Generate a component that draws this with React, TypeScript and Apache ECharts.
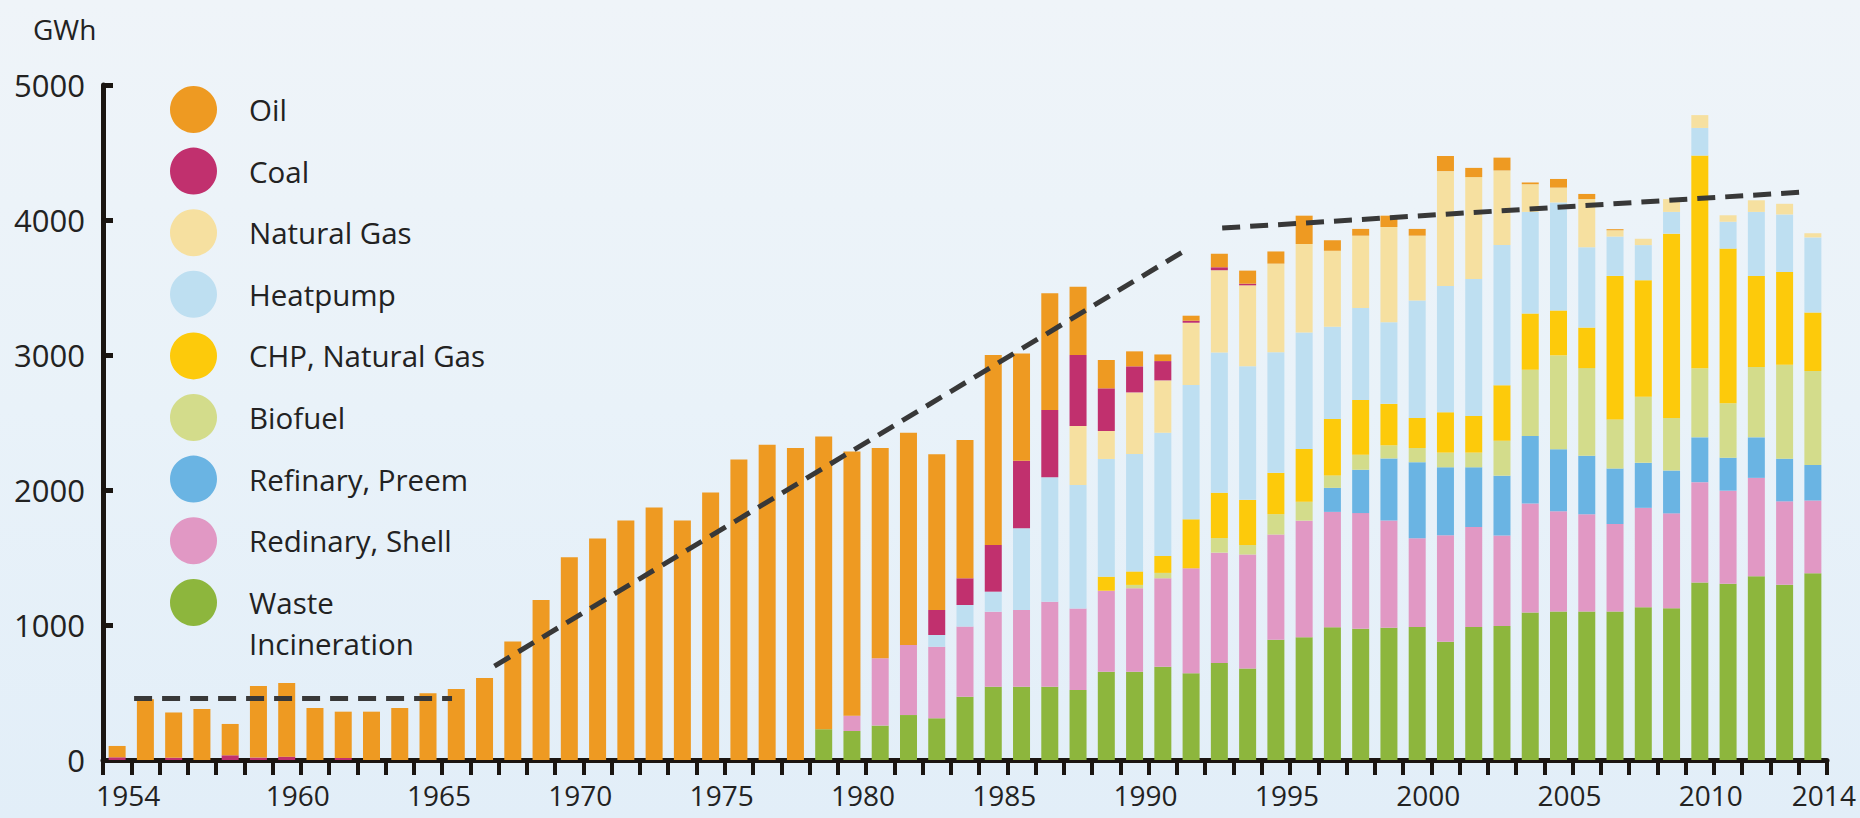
import React, { useEffect, useRef } from 'react';
import * as echarts from 'echarts';

const years = [
  '1954', '1955', '1956', '1957', '1958', '1959', '1960', '1961', '1962', '1963',
  '1964', '1965', '1966', '1967', '1968', '1969', '1970', '1971', '1972', '1973',
  '1974', '1975', '1976', '1977', '1978', '1979', '1980', '1981', '1982', '1983',
  '1984', '1985', '1986', '1987', '1988', '1989', '1990', '1991', '1992', '1993',
  '1994', '1995', '1996', '1997', '1998', '1999', '2000', '2001', '2002', '2003',
  '2004', '2005', '2006', '2007', '2008', '2009', '2010', '2011', '2012', '2013',
  '2014',
];

const labelYears = ['1954', '1960', '1965', '1970', '1975', '1980', '1985', '1990', '1995', '2000', '2005', '2010', '2014'];

const oil = [
  84, 450, 335, 378, 232, 530, 545, 385, 343, 358,
  385, 494, 526, 607, 877, 1185, 1501, 1640, 1775, 1870,
  1775, 1982, 2226, 2335, 2312, 2168, 1957, 1559, 1572, 1153,
  1024, 1407, 795, 864, 506, 210, 111, 49, 37, 100,
  97, 90, 210, 78, 50, 84, 50, 112, 68, 95,
  13, 64, 38, 8, 0, 0, 0, 0, 0, 0,
  0,
];

const coal = [
  20, 0, 17, 0, 35, 18, 25, 0, 15, 0,
  0, 0, 0, 0, 0, 0, 0, 0, 0, 0,
  0, 0, 0, 0, 0, 0, 0, 0, 0, 185,
  198, 346, 501, 499, 526, 316, 193, 143, 15, 22,
  12, 0, 0, 0, 0, 0, 0, 0, 0, 0,
  0, 0, 0, 0, 0, 0, 0, 0, 0, 0,
  0,
];

const naturalGas = [
  0, 0, 0, 0, 0, 0, 0, 0, 0, 0,
  0, 0, 0, 0, 0, 0, 0, 0, 0, 0,
  0, 0, 0, 0, 0, 0, 0, 0, 0, 0,
  0, 0, 0, 0, 437, 207, 457, 388, 461, 610,
  600, 657, 655, 563, 536, 706, 480, 851, 755, 553,
  205, 110, 357, 47, 47, 95, 95, 48, 86, 79,
  31,
];

const heatpump = [
  0, 0, 0, 0, 0, 0, 0, 0, 0, 0,
  0, 0, 0, 0, 0, 0, 0, 0, 0, 0,
  0, 0, 0, 0, 0, 0, 0, 0, 0, 87,
  160, 148, 605, 921, 914, 872, 869, 913, 995, 1038,
  989, 893, 864, 683, 682, 604, 870, 935, 1014, 1038,
  752, 800, 595, 291, 260, 161, 205, 199, 474, 427,
  557,
];

const chpNaturalGas = [
  0, 0, 0, 0, 0, 0, 0, 0, 0, 0,
  0, 0, 0, 0, 0, 0, 0, 0, 0, 0,
  0, 0, 0, 0, 0, 0, 0, 0, 0, 0,
  0, 0, 0, 0, 0, 104, 100, 125, 363, 336,
  335, 306, 390, 418, 405, 307, 223, 299, 272, 411,
  418, 333, 300, 1063, 863, 1366, 1575, 1145, 674, 686,
  433,
];

const biofuel = [
  0, 0, 0, 0, 0, 0, 0, 0, 0, 0,
  0, 0, 0, 0, 0, 0, 0, 0, 0, 0,
  0, 0, 0, 0, 0, 0, 0, 0, 0, 0,
  0, 0, 0, 0, 0, 0, 25, 40, 0, 108,
  70, 151, 140, 92, 111, 97, 105, 109, 109, 259,
  490, 695, 649, 364, 490, 389, 512, 404, 522, 696,
  696,
];

const refinaryPreem = [
  0, 0, 0, 0, 0, 0, 0, 0, 0, 0,
  0, 0, 0, 0, 0, 0, 0, 0, 0, 0,
  0, 0, 0, 0, 0, 0, 0, 0, 0, 0,
  0, 0, 0, 0, 0, 0, 0, 0, 0, 0,
  0, 0, 0, 178, 321, 460, 564, 503, 442, 443,
  500, 459, 433, 411, 333, 317, 332, 244, 300, 316,
  263,
];

const redinaryShell = [
  0, 0, 0, 0, 0, 0, 0, 0, 0, 0,
  0, 0, 0, 0, 0, 0, 0, 0, 0, 0,
  0, 0, 0, 0, 0, 0, 113, 498, 519, 530,
  519, 556, 568, 630, 605, 600, 618, 655, 778, 818,
  844, 780, 864, 854, 856, 795, 657, 789, 741, 671,
  807, 743, 721, 648, 737, 702, 743, 690, 728, 617,
  538,
];

const wasteIncineration = [
  0, 0, 0, 0, 0, 0, 0, 0, 0, 0,
  0, 0, 0, 0, 0, 0, 0, 0, 0, 0,
  0, 0, 0, 0, 0, 228, 215, 255, 333, 309,
  469, 543, 543, 543, 518, 654, 654, 691, 642, 718,
  678, 890, 909, 984, 973, 979, 985, 876, 985, 992,
  1093, 1100, 1100, 1100, 1131, 1125, 1315, 1305, 1362, 1299,
  1384,
];

// dashed trend segments: [year position, GWh]
const trendEarly = [[1954.6, 455], [1965.85, 455]];
const trendGrowth = [[1967.35, 695], [1991.75, 3770]];
const trendRecent = [[1993.1, 3940], [2013.8, 4209]];

const legendOrder = ['Oil', 'Coal', 'Natural Gas', 'Heatpump', 'CHP, Natural Gas', 'Biofuel', 'Refinary, Preem', 'Redinary, Shell'];

export default function App() {
  const ref = useRef<HTMLDivElement>(null);

  useEffect(() => {
    document.body.style.margin = '0';
    const chart = echarts.init(ref.current!, null, { renderer: 'svg' });
    const font = "'Open Sans', sans-serif";
    const ink = '#1a1511';
    const txt = '#222222';
    const legendFont = 29.5;

    const stackDefs = [
      { name: 'Waste Incineration', data: wasteIncineration, color: '#8DB63D' },
      { name: 'Redinary, Shell', data: redinaryShell, color: '#E198C4' },
      { name: 'Refinary, Preem', data: refinaryPreem, color: '#6AB4E3' },
      { name: 'Biofuel', data: biofuel, color: '#D3DC8B' },
      { name: 'CHP, Natural Gas', data: chpNaturalGas, color: '#FDCA0B' },
      { name: 'Heatpump', data: heatpump, color: '#BEDFF1' },
      { name: 'Natural Gas', data: naturalGas, color: '#F6E0A0' },
      { name: 'Coal', data: coal, color: '#C1306E' },
      { name: 'Oil', data: oil, color: '#EE9A22' },
    ];

    const barSeries = stackDefs.map((d) => ({
      name: d.name,
      type: 'bar',
      stack: 'total',
      data: d.data,
      barWidth: 17,
      itemStyle: { color: d.color },
      xAxisIndex: 0,
      yAxisIndex: 0,
      silent: true,
    }));

    const trendSeries = [trendEarly, trendGrowth, trendRecent].map((t, i) => ({
      name: 'trend' + i,
      type: 'line',
      xAxisIndex: 1,
      yAxisIndex: 0,
      data: t,
      symbol: 'none',
      silent: true,
      z: 5,
      lineStyle: { color: '#383838', width: 5, type: [18, 10], cap: 'butt' },
    }));

    chart.setOption({
      animation: false,
      backgroundColor: 'transparent',
      title: {
        text: 'GWh',
        left: 33,
        top: 15,
        padding: 0,
        textStyle: { fontSize: 28, fontWeight: 'normal', color: txt, fontFamily: font },
      },
      legend: [
        {
          data: legendOrder,
          orient: 'vertical',
          left: 170,
          top: 86,
          padding: 0,
          itemWidth: 49,
          itemHeight: 47,
          itemGap: 14.6,
          icon: 'circle',
          selectedMode: false,
          textStyle: { fontSize: legendFont, color: txt, fontFamily: font, padding: [0, 0, 0, 26] },
        },
        {
          data: ['Waste Incineration'],
          formatter: () => ' \nWaste\nIncineration',
          orient: 'vertical',
          left: 170,
          top: 541,
          padding: 0,
          itemWidth: 49,
          itemHeight: 47,
          icon: 'circle',
          selectedMode: false,
          textStyle: { fontSize: legendFont, color: txt, fontFamily: font, lineHeight: 41, padding: [0, 0, 0, 26] },
        },
      ],
      grid: { left: 103, right: 33, top: 85, bottom: 58, containLabel: false, outerBoundsMode: 'none' },
      xAxis: [
        {
          type: 'category',
          data: years,
          boundaryGap: true,
          axisLine: { show: true, lineStyle: { color: ink, width: 5 } },
          axisTick: { show: true, interval: 0, length: 15, lineStyle: { color: ink, width: 4 } },
          axisLabel: {
            interval: (_i: number, v: string) => labelYears.includes(v),
            fontSize: 28,
            color: txt,
            fontFamily: font,
            margin: 21,
            padding: [0, 0, 0, 22],
          },
          splitLine: { show: false },
        },
        {
          type: 'value',
          min: 1953.5,
          max: 2014.5,
          show: false,
        },
      ],
      yAxis: {
        type: 'value',
        min: 0,
        max: 5000,
        interval: 1000,
        axisLine: { show: true, lineStyle: { color: ink, width: 5 } },
        axisTick: { show: true, inside: true, length: 10, lineStyle: { color: ink, width: 5 } },
        splitLine: { show: false },
        axisLabel: {
          fontSize: 31,
          color: txt,
          fontFamily: font,
          margin: 18,
          formatter: (v: number) => String(v),
        },
      },
      series: [...barSeries, ...trendSeries],
    });

    return () => chart.dispose();
  }, []);

  return (
    <div
      ref={ref}
      style={{
        width: 1860,
        height: 818,
        background: 'linear-gradient(180deg, #EFF4F9 0%, #E9F2F9 50%, #E2EEF8 100%)',
      }}
    />
  );
}
